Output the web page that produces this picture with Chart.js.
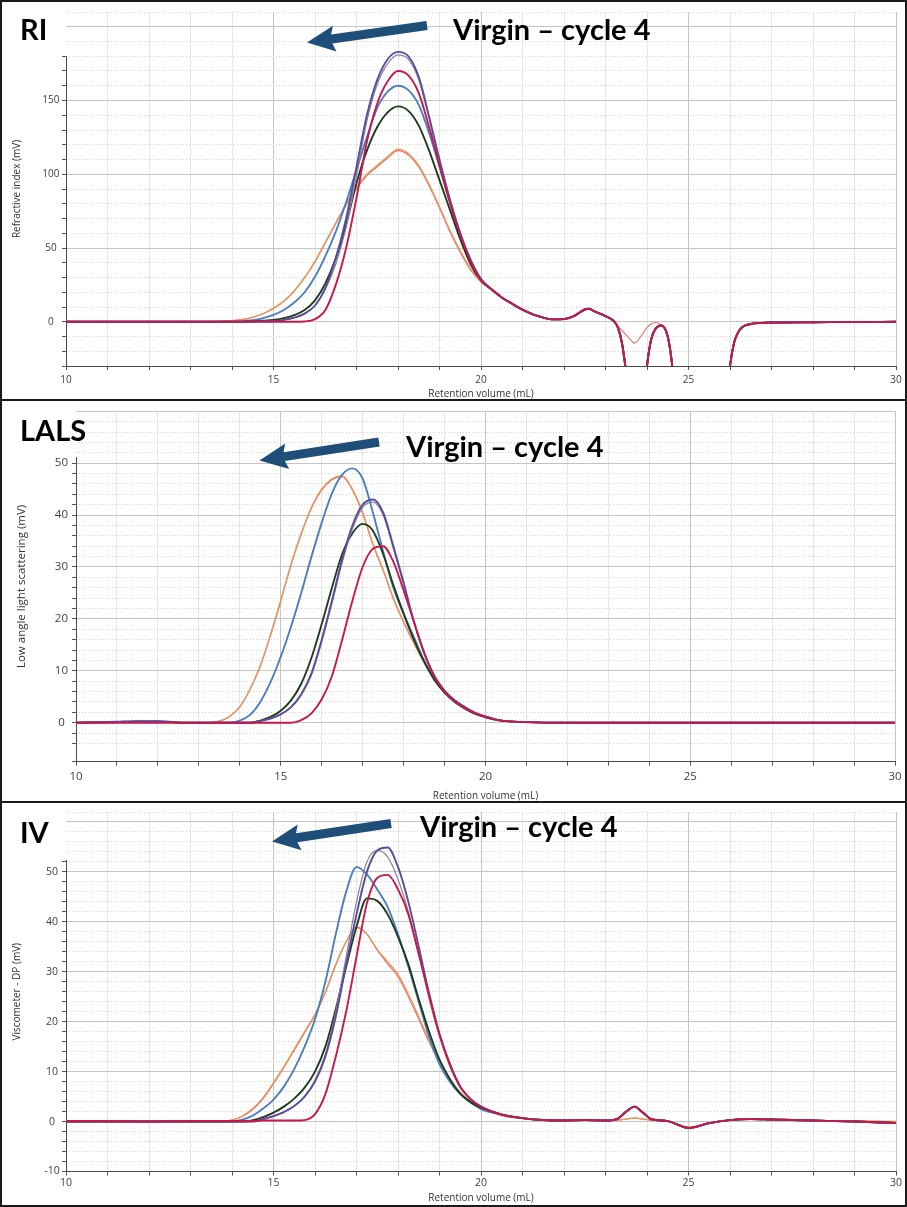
<!DOCTYPE html>
<html>
<head>
<meta charset="utf-8">
<script src="https://cdn.jsdelivr.net/npm/chart.js"></script>
<style>
  body { margin: 0; background: #fff; }
  #page { position: relative; width: 907px; height: 1207px; background: #fff; overflow: hidden; }
  canvas { position: absolute; left: 0; }
  .tag { position: absolute; font-family: Lato, 'Open Sans', sans-serif; font-weight: 700; font-size: 29px; line-height: 29px; color: #000; white-space: nowrap; }
  .rule { position: absolute; background: #1a1a1a; }
  svg { position: absolute; left: 0; top: 0; }
</style>
</head>
<body>
<div id="page">
  <canvas id="ri" width="907" height="400" style="top:0"></canvas>
  <canvas id="lals" width="907" height="402" style="top:400px"></canvas>
  <canvas id="iv" width="907" height="405" style="top:802px"></canvas>

  <div class="tag" style="left:20px;top:13.6px">RI</div>
  <div class="tag" style="left:453px;top:13.6px">Virgin – cycle 4</div>
  <div class="tag" style="left:20px;top:415px">LALS</div>
  <div class="tag" style="left:406px;top:431px">Virgin – cycle 4</div>
  <div class="tag" style="left:20px;top:817px">IV</div>
  <div class="tag" style="left:420px;top:811px">Virgin – cycle 4</div>

  <svg id="arrows" width="907" height="1207"></svg>

  <div class="rule" style="left:0;top:0;width:907px;height:2px"></div>
  <div class="rule" style="left:0;top:1205px;width:907px;height:2px"></div>
  <div class="rule" style="left:0;top:0;width:2px;height:1207px"></div>
  <div class="rule" style="left:905px;top:0;width:2px;height:1207px"></div>
  <div class="rule" style="left:0;top:399px;width:907px;height:2px"></div>
  <div class="rule" style="left:0;top:801px;width:907px;height:2px"></div>
</div>

<script>
// ---- RI (refractive index) ----
const riX = [10, 11, 12, 13, 13.5, 13.75, 14, 14.25, 14.5, 14.75, 15, 15.25, 15.5, 15.75, 16, 16.25, 16.5, 16.75, 17, 17.25, 17.5, 17.75, 18, 18.25, 18.5, 18.75, 19, 19.25, 19.5, 19.75, 20];
const riRed    = [0, 0, 0, 0, 0, 0, 0, 0, 0, 0, 0, 0, 0, 0.2, 1.8, 8, 25, 50, 84, 122, 148, 163, 170, 167, 155, 132, 106, 81, 59, 41, 28];
const riPurple = [0, 0, 0, 0, 0, 0, 0, 0, 0.1, 0.25, 0.5, 1.3, 2.8, 5.5, 11, 23, 43, 70, 105, 140, 164, 178, 183, 180, 166, 139, 110, 83, 60, 42, 29];
const riGray   = [0, 0, 0, 0, 0, 0, 0, 0, 0.1, 0.25, 0.5, 1.3, 2.8, 5.5, 11, 22, 39, 64, 99, 136, 161, 175, 181, 178, 164, 138, 109, 83, 60, 42, 29];
const riGreen  = [0, 0, 0, 0, 0, 0, 0, 0.1, 0.3, 0.7, 1.3, 2.5, 4.5, 8, 14.5, 26, 43, 66, 94, 116, 132, 142, 146, 143, 133, 116, 96, 76, 56, 39, 28];
const riBlue   = [0, 0, 0, 0, 0, 0, 0.1, 0.3, 1, 2.5, 4.7, 8, 13, 20, 30.5, 44.5, 61, 81, 103, 125, 145, 156, 160, 157, 147, 128, 105, 81, 59, 41, 29];
const riOrange = [0, 0, 0, 0, 0, 0.3, 0.7, 1.5, 3, 5.5, 9.3, 14, 21, 30, 41, 54, 67, 80, 91, 100, 106, 112, 117, 114, 106, 93, 78, 62, 48, 36, 27];
const riSalmon = [0, 0, 0, 0, 0, 0.3, 0.7, 1.5, 3, 5.4, 9, 13.8, 20.8, 29.8, 40.5, 53.5, 66.5, 79, 90, 99, 105, 111, 116, 113, 105, 92, 77, 61, 47, 35, 27];
// after the main peak all traces run together (solvent peaks)
const riTailX      = [20.25, 20.5, 20.75, 21, 21.25, 21.5, 21.75, 22, 22.25, 22.5, 22.6, 22.75, 23, 23.2, 23.3, 23.4, 23.5, 23.6, 23.7, 23.85, 24, 24.1, 24.2, 24.35, 24.5, 24.6, 24.7, 25.9, 26, 26.1, 26.2, 26.3, 26.5, 26.75, 27, 28, 29, 30];
const riTail       = [22, 16.5, 12.2, 8.2, 5, 2.8, 1.6, 1.8, 4, 8.3, 8.8, 6.8, 3.8, 0.5, -4, -15, -35, -60, -80, -80, -30, -12, -5, -2.5, -10, -28, -60, -60, -30, -14, -7, -3.5, -1.5, -0.8, -0.5, -0.3, -0.2, 0];
const riTailSalmon = [22, 16.5, 12.2, 8.2, 5, 2.8, 1.6, 1.8, 4, 8.3, 8.8, 6.8, 3.8, 0.5, -3, -6, -9, -12, -14.5, -10, -4, -1.5, -0.5, -2.5, -10, -28, -60, -60, -30, -14, -7, -3.5, -1.5, -0.8, -0.5, -0.3, -0.2, 0];

// ---- LALS (low angle light scattering) ----
const lalsX = [10, 11, 11.5, 12, 12.3, 12.6, 13, 13.25, 13.5, 13.75, 14, 14.25, 14.5, 14.75, 15, 15.25, 15.5, 15.75, 16, 16.25, 16.5, 16.75, 17, 17.25, 17.5, 17.75, 18, 18.25, 18.5, 18.75, 19, 19.25, 19.5, 19.75, 20, 20.25, 20.5, 21, 22, 25, 30];
const lalsRed    = [0, 0, 0, 0, 0, 0, 0, 0, 0, 0, 0, 0, 0, 0, 0, 0, 0.5, 1.8, 4.5, 9, 16, 23.5, 30, 33.5, 34, 31, 25.5, 19.5, 13.5, 9, 6, 4.1, 2.8, 1.8, 1.1, 0.6, 0.3, 0.1, 0, 0, 0];
const lalsPurple = [0, 0.2, 0.3, 0.3, 0.2, 0, 0, 0, 0, 0, 0, 0, 0.3, 0.8, 1.6, 3, 5.5, 9.5, 16, 23.5, 31.5, 38, 42, 43, 40.5, 34, 27, 19.5, 13.5, 9, 6.2, 4.3, 3, 1.9, 1.2, 0.6, 0.3, 0.1, 0, 0, 0];
const lalsGray   = [0, 0.2, 0.3, 0.3, 0.2, 0, 0, 0, 0, 0, 0, 0, 0.3, 0.8, 1.6, 2.9, 5.3, 9.2, 15.5, 23, 30.8, 37.3, 41.5, 42.5, 40, 33.5, 26.5, 19.5, 13.5, 9, 6.2, 4.3, 3, 1.9, 1.2, 0.6, 0.3, 0.1, 0, 0, 0];
const lalsGreen  = [0, 0.1, 0.2, 0.2, 0.1, 0, 0, 0, 0, 0, 0, 0, 0.4, 1.1, 2.3, 4.3, 7.5, 12.5, 19, 26, 32.5, 36.5, 38.3, 37, 32.5, 26.5, 21, 16, 11.8, 8.3, 5.8, 4, 2.7, 1.7, 1.1, 0.6, 0.3, 0.1, 0, 0, 0];
const lalsBlue   = [0, 0.1, 0.2, 0.2, 0.1, 0, 0, 0, 0, 0, 0.4, 1.5, 4, 7.8, 12.7, 18.5, 25, 32, 38.5, 44.2, 47.8, 49, 47, 40.5, 33, 26, 21, 16.5, 12, 8.5, 6, 4.2, 2.8, 1.8, 1.1, 0.6, 0.3, 0.1, 0, 0, 0];
const lalsOrange = [0, 0.1, 0.15, 0.15, 0.1, 0, 0, 0, 0.3, 1.2, 3.1, 6.5, 11, 17, 23.6, 30.5, 36.5, 41.5, 45, 47, 47.6, 45, 40.5, 34.5, 29.5, 24, 19.5, 15.5, 11.6, 8.3, 6, 4.2, 2.8, 1.8, 1.1, 0.6, 0.3, 0.1, 0, 0, 0];
const lalsSalmon = [0, 0.1, 0.15, 0.15, 0.1, 0, 0, 0, 0.3, 1.2, 3, 6.4, 10.8, 16.8, 23.4, 30.3, 36.3, 41.3, 44.8, 46.8, 47.4, 44.8, 40.3, 34.3, 29.3, 23.8, 19.3, 15.3, 11.5, 8.2, 5.9, 4.1, 2.7, 1.7, 1, 0.6, 0.3, 0.1, 0, 0, 0];

// ---- IV (viscometer DP) ----
const ivX = [10, 11, 12, 13, 13.5, 13.75, 14, 14.25, 14.5, 14.75, 15, 15.25, 15.5, 15.75, 16, 16.25, 16.5, 16.75, 17, 17.25, 17.5, 17.75, 18, 18.25, 18.5, 18.75, 19, 19.25, 19.5, 19.75, 20];
const ivRed    = [0.1, 0.1, 0, 0.1, 0.1, 0.1, 0.1, 0.1, 0.1, 0.2, 0.2, 0.2, 0.2, 0.3, 1.5, 5.5, 13, 22, 33, 43.7, 48.8, 49.4, 46.5, 41.5, 33.5, 25.5, 17.5, 11.5, 7, 4.5, 3];
const ivPurple = [0, 0, 0, 0, 0, 0, 0, 0, 0, 0.5, 1.1, 1.9, 3.1, 5, 8, 13, 21, 31.5, 41.5, 50, 54.3, 54.9, 51, 44, 35, 25.5, 17.5, 11.5, 7, 4.5, 3];
const ivGray   = [0, 0, 0, 0, 0, 0, 0, 0, 0, 0.5, 1.1, 1.9, 3.1, 5, 8.3, 13.5, 22, 33, 44, 52, 54.3, 53, 48.5, 42, 33.5, 24.5, 17, 11, 6.8, 4.4, 3];
const ivGreen  = [0, 0, 0, 0, 0, 0, 0, 0, 0.3, 0.9, 1.8, 3, 4.6, 6.8, 10, 15, 22.5, 31, 39, 44.7, 44.2, 41.5, 37, 31.5, 24.5, 18, 12.4, 8.5, 5.6, 3.9, 2.8];
const ivBlue   = [0, 0, 0, 0, 0, 0, 0, 0.4, 1.2, 2.6, 4.4, 7, 10.5, 15, 20.5, 28, 37.5, 46, 51, 49.5, 46.5, 43, 37.5, 31, 24, 17, 11.5, 8, 5.5, 3.8, 2.5];
const ivOrange = [0, 0, 0, 0, 0, 0, 0.3, 1.1, 2.6, 4.8, 7.8, 11, 14.5, 18, 21.5, 26, 31.5, 36, 38.8, 37.5, 34.5, 32, 29.5, 25.5, 21, 16.3, 12.3, 8.6, 5.9, 4.2, 3];
const ivSalmon = [0, 0, 0, 0, 0, 0, 0.3, 1, 2.4, 4.6, 7.6, 10.8, 14.3, 17.8, 21.3, 25.8, 31.3, 36, 39, 37.6, 34.3, 31.6, 29, 25, 20.5, 15.9, 12, 8.4, 5.8, 4.1, 2.9];
const ivTailX    = [20.5, 21, 21.5, 22, 22.5, 23, 23.3, 23.5, 23.7, 23.9, 24.1, 24.5, 25, 25.5, 26, 26.5, 27, 28, 29, 30];
const ivTail     = [1.4, 0.7, 0.3, 0.2, 0.3, 0.2, 0.6, 2, 3, 1.8, 0.5, 0.1, -1.3, -0.3, 0.3, 0.5, 0.4, 0.2, 0, -0.3];
const ivTailFlat = [1.2, 0.6, 0.3, 0.2, 0.3, 0.2, 0.3, 0.5, 0.7, 0.5, 0.3, 0.1, -1.1, -0.3, 0.3, 0.5, 0.4, 0.2, 0.1, 0];

const colors = {
  red: '#c8174a', purple: '#5b4b9f', gray: '#8a8196', green: '#1d3d1d',
  blue: '#4a7ec2', orange: '#e8975c', salmon: '#ea6f68'
};

const axisFont = "'Open Sans', 'Noto Sans', sans-serif";

function pts(xs, ys) {
  return xs.map((x, i) => ({ x: x, y: ys[i] }));
}

// vertical axis line only spans min..axisTop, like the instrument software
const yAxisLine = {
  id: 'yAxisLine',
  beforeDatasetsDraw(chart, args, opts) {
    const y = chart.scales.y;
    const left = Math.round(chart.chartArea.left) + 0.5;
    const c = chart.ctx;
    c.save();
    c.strokeStyle = '#4a4a4a';
    c.lineWidth = 1;
    c.beginPath();
    c.moveTo(left, y.getPixelForValue(y.min));
    c.lineTo(left, y.getPixelForValue(opts.top));
    c.stroke();
    c.restore();
  }
};

function panel(id, p) {
  const datasets = p.lines.map(l => ({
    label: l.label,
    data: l.data,
    borderColor: l.color,
    borderWidth: l.width || 1.9,
    pointRadius: 0,
    fill: false,
    cubicInterpolationMode: 'monotone'
  }));
  new Chart(document.getElementById(id), {
    type: 'line',
    data: { datasets: datasets },
    options: {
      responsive: false,
      animation: false,
      events: [],
      layout: { padding: p.pad },
      plugins: {
        legend: { display: false },
        tooltip: { enabled: false },
        yAxisLine: { top: p.axisTop }
      },
      scales: {
        x: {
          type: 'linear', min: 10, max: 30,
          afterFit: s => { s.height = p.xH; s.paddingLeft = 0; s.paddingRight = 0; },
          ticks: {
            stepSize: 1, autoSkip: false, maxRotation: 0, padding: p.xPad,
            color: '#404040', font: { family: axisFont, size: p.font },
            callback: v => (v % 5 === 0 ? v : '')
          },
          grid: {
            color: c => !c.tick ? '#ddd' : (c.tick.value === 10 ? 'rgba(0,0,0,0)' : (c.tick.value % 5 === 0 ? '#c4c4c4' : '#e6e6e6')),
            tickColor: '#555', tickLength: 4
          },
          border: { color: '#4a4a4a' },
          title: {
            display: true, text: 'Retention volume (mL)', color: '#333',
            font: { family: axisFont, size: 10 }, padding: { top: 0, bottom: p.xTitlePad }
          }
        },
        y: {
          min: p.yMin, max: p.yMax,
          afterFit: s => { s.width = p.yW; s.paddingTop = 0; s.paddingBottom = 0; },
          ticks: {
            stepSize: p.minor, autoSkip: false, crossAlign: 'center', padding: p.yPad,
            color: '#404040', font: { family: axisFont, size: p.font },
            callback: v => (Math.abs(v % p.major) < 1e-9 && v <= p.axisTop ? v : '')
          },
          grid: {
            color: c => !c.tick ? '#ddd' : (Math.abs(c.tick.value % p.major) < 1e-9 ? '#c4c4c4' : '#cfcfcf'),
            tickColor: c => (c.tick && c.tick.value > p.axisTop ? 'rgba(0,0,0,0)' : '#555'),
            tickLength: 4
          },
          border: {
            display: false,
            dash: c => (c.tick && Math.abs(c.tick.value % p.major) > 1e-9 ? [1, 2] : [])
          },
          title: {
            display: true, text: p.yTitle, color: '#333',
            font: { family: axisFont, size: p.yTitleSize }, padding: { top: p.yTitlePad, bottom: 0 }
          }
        }
      }
    },
    plugins: [yAxisLine]
  });
}

panel('ri', {
  pad: { left: 0, right: 11, top: 12, bottom: 0 },
  xH: 34, yW: 66, xPad: 4, xTitlePad: 0, yPad: 2.5, font: 10,
  yMin: -30, yMax: 210, minor: 10, major: 50, axisTop: 180,
  yTitle: 'Refractive index (mV)', yTitleSize: 10, yTitlePad: 11,
  lines: [
    { label: 'Virgin',    color: colors.red,    data: pts(riX.concat(riTailX), riRed.concat(riTail)) },
    { label: 'Cycle 1',   color: colors.purple, data: pts(riX.concat(riTailX), riPurple.concat(riTail)) },
    { label: 'Cycle 1b',  color: colors.gray,   data: pts(riX.concat(riTailX), riGray.concat(riTail)), width: 1.2 },
    { label: 'Cycle 2',   color: colors.green,  data: pts(riX.concat(riTailX), riGreen.concat(riTail)) },
    { label: 'Cycle 3',   color: colors.blue,   data: pts(riX.concat(riTailX), riBlue.concat(riTail)) },
    { label: 'Cycle 4',   color: colors.orange, data: pts(riX.concat(riTailX), riOrange.concat(riTail)), width: 1.4 },
    { label: 'Cycle 4b',  color: colors.salmon, data: pts(riX.concat(riTailX), riSalmon.concat(riTailSalmon)), width: 1.1 }
  ]
});

panel('lals', {
  pad: { left: 0, right: 12, top: 11.3, bottom: 0 },
  xH: 40.4, yW: 76, xPad: 4, xTitlePad: 0, yPad: 4, font: 11.5,
  yMin: -7.5, yMax: 60, minor: 2, major: 10, axisTop: 51.2,
  yTitle: 'Low angle light scattering (mV)', yTitleSize: 11.5, yTitlePad: 15,
  lines: [
    { label: 'Virgin',   color: colors.red,    data: pts(lalsX, lalsRed) },
    { label: 'Cycle 1',  color: colors.purple, data: pts(lalsX, lalsPurple) },
    { label: 'Cycle 1b', color: colors.gray,   data: pts(lalsX, lalsGray), width: 1.2 },
    { label: 'Cycle 2',  color: colors.green,  data: pts(lalsX, lalsGreen) },
    { label: 'Cycle 3',  color: colors.blue,   data: pts(lalsX, lalsBlue) },
    { label: 'Cycle 4',  color: colors.orange, data: pts(lalsX, lalsOrange), width: 1.4 },
    { label: 'Cycle 4b', color: colors.salmon, data: pts(lalsX, lalsSalmon), width: 1.1 }
  ]
});

panel('iv', {
  pad: { left: 0, right: 11, top: 10, bottom: 0 },
  xH: 35.5, yW: 66, xPad: 1, xTitlePad: 3, yPad: 2.3, font: 10.5,
  yMin: -10, yMax: 62, minor: 2, major: 10, axisTop: 52.4,
  yTitle: 'Viscometer - DP (mV)', yTitleSize: 10, yTitlePad: 11,
  lines: [
    { label: 'Virgin',   color: colors.red,    data: pts(ivX.concat(ivTailX), ivRed.concat(ivTail)) },
    { label: 'Cycle 1',  color: colors.purple, data: pts(ivX.concat(ivTailX), ivPurple.concat(ivTail)) },
    { label: 'Cycle 1b', color: colors.gray,   data: pts(ivX.concat(ivTailX), ivGray.concat(ivTail)), width: 1.2 },
    { label: 'Cycle 2',  color: colors.green,  data: pts(ivX.concat(ivTailX), ivGreen.concat(ivTail)) },
    { label: 'Cycle 3',  color: colors.blue,   data: pts(ivX.concat(ivTailX), ivBlue.concat(ivTail)) },
    { label: 'Cycle 4',  color: colors.orange, data: pts(ivX.concat(ivTailX), ivOrange.concat(ivTailFlat)), width: 1.4 },
    { label: 'Cycle 4b', color: colors.salmon, data: pts(ivX.concat(ivTailX), ivSalmon.concat(ivTailFlat)), width: 1.1 }
  ]
});

// "Virgin -> cycle 4" arrows (annotation shapes, page pixels)
function arrowPoints(tail, tip, shaft, headLen, headW) {
  const dx = tip[0] - tail[0], dy = tip[1] - tail[1];
  const len = Math.hypot(dx, dy);
  const ux = dx / len, uy = dy / len, nx = -uy, ny = ux;
  const bx = tip[0] - ux * headLen, by = tip[1] - uy * headLen;
  return [
    [tail[0] + nx * shaft / 2, tail[1] + ny * shaft / 2],
    [bx + nx * shaft / 2, by + ny * shaft / 2],
    [bx + nx * headW / 2 - ux * 3, by + ny * headW / 2 - uy * 3],
    tip,
    [bx - nx * headW / 2 - ux * 3, by - ny * headW / 2 - uy * 3],
    [bx - nx * shaft / 2, by - ny * shaft / 2],
    [tail[0] - nx * shaft / 2, tail[1] - ny * shaft / 2]
  ].map(q => q[0].toFixed(1) + ',' + q[1].toFixed(1)).join(' ');
}
const arrows = [
  [[427, 25.5], [307, 42.5]],
  [[379, 442], [259.5, 460.5]],
  [[391, 823.5], [272, 841.5]]
];
const svg = document.getElementById('arrows');
arrows.forEach(a => {
  const poly = document.createElementNS('http://www.w3.org/2000/svg', 'polygon');
  poly.setAttribute('points', arrowPoints(a[0], a[1], 9, 25, 26));
  poly.setAttribute('fill', '#1f4e79');
  svg.appendChild(poly);
});
</script>
</body>
</html>
